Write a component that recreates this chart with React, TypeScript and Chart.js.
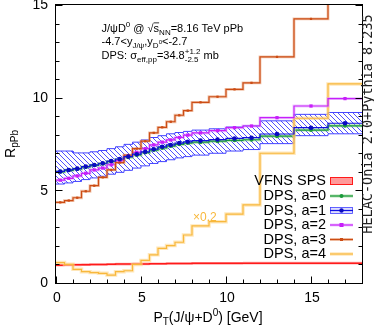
import React, { useEffect, useRef } from "react";
import { Chart, registerables } from "chart.js";

Chart.register(...registerables);

// ---------- data ----------
const binEdges = [0, 0.5, 1, 1.5, 2, 2.5, 3, 3.5, 4, 4.5, 5, 5.5, 6, 6.5, 7, 7.5, 8, 9, 10, 11, 12, 14, 16, 18];

const vfnsSps = [0.96, 0.97, 0.98, 0.99, 1.0, 1.0, 1.01, 1.02, 1.02, 1.03, 1.03, 1.04, 1.04, 1.05, 1.05, 1.05, 1.06, 1.06, 1.06, 1.07, 1.07, 1.07, 1.07];
const vfnsSpsUp = [1.03, 1.04, 1.05, 1.06, 1.07, 1.07, 1.08, 1.09, 1.09, 1.1, 1.1, 1.11, 1.11, 1.12, 1.12, 1.12, 1.13, 1.13, 1.13, 1.14, 1.14, 1.14, 1.14];
const vfnsSpsLo = [0.89, 0.9, 0.91, 0.92, 0.93, 0.93, 0.94, 0.95, 0.95, 0.96, 0.96, 0.97, 0.97, 0.98, 0.98, 0.98, 0.99, 0.99, 0.99, 1.0, 1.0, 1.0, 1.0];

const dpsA0 = [6.0, 6.08, 6.15, 6.26, 6.35, 6.44, 6.55, 6.66, 6.79, 6.91, 7.04, 7.17, 7.29, 7.39, 7.48, 7.55, 7.6, 7.65, 7.7, 7.73, 7.92, 8.25, 8.48];
const dpsA1 = [6.02, 6.1, 6.17, 6.28, 6.37, 6.46, 6.58, 6.69, 6.82, 6.95, 7.08, 7.22, 7.35, 7.45, 7.55, 7.62, 7.68, 7.74, 7.8, 7.84, 8.04, 8.38, 8.62];
const dpsA1Up = [7.12, 7.12, 7.02, 7.02, 7.08, 7.15, 7.25, 7.35, 7.48, 7.6, 7.72, 7.85, 7.95, 8.05, 8.12, 8.18, 8.25, 8.32, 8.42, 8.48, 8.75, 9.1, 9.2];
const dpsA1Lo = [5.34, 5.4, 5.48, 5.58, 5.67, 5.76, 5.87, 5.97, 6.08, 6.2, 6.32, 6.45, 6.55, 6.65, 6.75, 6.82, 6.9, 7.0, 7.12, 7.2, 7.52, 7.95, 8.05];
const dpsA2 = [5.55, 5.65, 5.78, 5.92, 6.1, 6.2, 6.38, 6.6, 6.85, 7.05, 7.25, 7.45, 7.6, 7.72, 7.85, 7.98, 8.1, 8.22, 8.38, 8.47, 8.92, 9.55, 9.95];
const dpsA3 = [4.35, 4.45, 4.6, 4.95, 5.25, 5.7, 6.1, 6.5, 6.9, 7.25, 7.65, 8.1, 8.4, 8.7, 9.05, 9.3, 9.75, 10.05, 10.45, 10.8, 12.2, 14.25, 16.5];
const dpsA4x02 = [1.1, 1.01, 0.74, 0.61, 0.56, 0.52, 0.43, 0.61, 0.66, 1.0, 1.22, 1.52, 1.87, 2.02, 2.2, 2.59, 3.08, 3.31, 3.72, 4.21, 7.0, 8.89, 10.74];

const xMajorTicks = [0, 5, 10, 15];
const xMinorTicks = [0, 1, 2, 3, 4, 5, 6, 7, 8, 9, 10, 11, 12, 13, 14, 15, 16, 17, 18];
const yMajorTicks = [0, 5, 10, 15];
const yMinorTicks = [0, 1, 2, 3, 4, 5, 6, 7, 8, 9, 10, 11, 12, 13, 14, 15];
const xTickLabels = ["0", "5", "10", "15"];
const yTickLabels = ["0", "5", "10", "15"];
const legendLabels = ["VFNS SPS", "DPS, a=0", "DPS, a=1", "DPS, a=2", "DPS, a=3", "DPS, a=4"];

// ---------- helpers ----------
const steps = (vals: number[]) =>
  vals.flatMap((v, i) => [
    { x: binEdges[i], y: v },
    { x: binEdges[i + 1], y: v },
  ]);
const centers = (vals: number[]) =>
  vals.map((v, i) => ({ x: (binEdges[i] + binEdges[i + 1]) / 2, y: v }));

const FF = '"Liberation Sans", Arial, Helvetica, sans-serif';

type Seg = { t?: string; s: number; dy?: number; sup?: string; sub?: string; over?: boolean };

function segWidth(ctx: CanvasRenderingContext2D, g: Seg) {
  ctx.font = `${g.s}px ${FF}`;
  if (g.sup !== undefined) return Math.max(ctx.measureText(g.sup).width, ctx.measureText(g.sub || "").width);
  return ctx.measureText(g.t || "").width;
}
function richWidth(ctx: CanvasRenderingContext2D, segs: Seg[]) {
  return segs.reduce((w, g) => w + segWidth(ctx, g), 0);
}
function drawRich(ctx: CanvasRenderingContext2D, segs: Seg[], x: number, y: number) {
  let cx = x;
  for (const g of segs) {
    const w = segWidth(ctx, g);
    ctx.font = `${g.s}px ${FF}`;
    if (g.sup !== undefined) {
      ctx.fillText(g.sup, cx, y - 5);
      ctx.fillText(g.sub || "", cx, y + 3);
    } else {
      ctx.fillText(g.t || "", cx, y + (g.dy || 0));
      if (g.over) ctx.fillRect(cx, y - g.s * 0.82, w, 0.8);
    }
    cx += w;
  }
  return cx;
}

const COL = {
  red: "#ff1a1a",
  redBand: "rgba(255,110,110,0.55)",
  green: "#1a9a3a",
  greenHalo: "rgba(120,200,120,0.55)",
  blue: "#1010e0",
  blueEdge: "#4444ff",
  blueDot: "#0a0ac0",
  magenta: "#c81efa",
  magentaHalo: "rgba(220,150,255,0.5)",
  orange: "#cc4c14",
  orangeHalo: "rgba(230,140,90,0.5)",
  yellow: "#f8b83c",
  yellowHalo: "rgba(255,215,140,0.6)",
};

const overlay = {
  id: "overlay",
  afterDraw(chart: any) {
    const ctx: CanvasRenderingContext2D = chart.ctx;
    const a = chart.chartArea;
    const xs = chart.scales.x;
    const ys = chart.scales.y;
    ctx.save();
    ctx.fillStyle = "#000";
    ctx.strokeStyle = "#000";
    ctx.lineWidth = 1;
    const L = Math.round(a.left) - 0.5;
    const R = Math.round(a.right) + 0.5;
    const T = Math.round(a.top) - 0.5;
    const B = Math.round(a.bottom) + 0.5;
    ctx.strokeRect(L, T, R - L, B - T);

    ctx.beginPath();
    xMinorTicks.forEach((v) => {
      const px = Math.round(xs.getPixelForValue(v)) + 0.5;
      const len = xMajorTicks.includes(v) ? 7 : 4;
      ctx.moveTo(px, B);
      ctx.lineTo(px, B - len);
    });
    yMinorTicks.forEach((v) => {
      const py = Math.round(ys.getPixelForValue(v)) + 0.5;
      const len = yMajorTicks.includes(v) ? 7 : 4;
      ctx.moveTo(L, py);
      ctx.lineTo(L + len, py);
      ctx.moveTo(R, py);
      ctx.lineTo(R - len, py);
    });
    ctx.stroke();

    // tick labels
    ctx.font = `14px ${FF}`;
    ctx.textAlign = "right";
    ctx.textBaseline = "middle";
    yMajorTicks.forEach((v, i) => ctx.fillText(yTickLabels[i], 48, ys.getPixelForValue(v) + 0.5));
    ctx.textAlign = "center";
    ctx.textBaseline = "alphabetic";
    xMajorTicks.forEach((v, i) => ctx.fillText(xTickLabels[i], xs.getPixelForValue(v) + 1, 302));

    // axis titles
    ctx.textAlign = "left";
    const xt: Seg[] = [
      { t: "P", s: 14 },
      { t: "T", s: 10, dy: 3 },
      { t: "(J/ψ+D", s: 14 },
      { t: "0", s: 10, dy: -6 },
      { t: ") [GeV]", s: 14 },
    ];
    const xw = richWidth(ctx, xt);
    drawRich(ctx, xt, 208 - xw / 2, 322);

    const yt: Seg[] = [
      { t: "R", s: 14 },
      { t: "pPb", s: 10, dy: 3 },
    ];
    ctx.save();
    ctx.translate(15, 144);
    ctx.rotate(-Math.PI / 2);
    const yw = richWidth(ctx, yt);
    drawRich(ctx, yt, -yw / 2, 0);
    ctx.restore();

    // annotations
    drawRich(
      ctx,
      [
        { t: "J/ψD", s: 11 },
        { t: "0", s: 8, dy: -5 },
        { t: " @ ", s: 11 },
        { t: "√", s: 11 },
        { t: "s", s: 11, over: true },
        { t: "NN", s: 8, dy: 3 },
        { t: "=8.16 TeV pPb", s: 11 },
      ],
      101.5,
      31.5
    );
    drawRich(
      ctx,
      [
        { t: "-4.7<y", s: 11 },
        { t: "J/ψ", s: 8, dy: 3 },
        { t: ",y", s: 11 },
        { t: "D", s: 8, dy: 3 },
        { t: "0", s: 6, dy: -1 },
        { t: "<-2.7", s: 11 },
      ],
      101.5,
      44.5
    );
    drawRich(
      ctx,
      [
        { t: "DPS: σ", s: 11 },
        { t: "eff,pp", s: 8, dy: 3 },
        { t: "=34.8", s: 11 },
        { s: 8, sup: "+1.2", sub: "-2.5" },
        { t: " mb", s: 11 },
      ],
      101.5,
      59
    );

    // x0.2 label
    ctx.fillStyle = COL.yellow;
    ctx.font = `12px ${FF}`;
    ctx.fillText("×0.2", 193, 221);

    // right-side program label
    ctx.fillStyle = "#222";
    ctx.save();
    ctx.translate(368, 124);
    ctx.rotate(-Math.PI / 2);
    ctx.font = `13.5px "DejaVu Sans Mono", "Liberation Mono", monospace`;
    ctx.textAlign = "center";
    ctx.textBaseline = "middle";
    ctx.fillText("HELAC-Onia 2.0+Pythia 8.235", 0, 0);
    ctx.restore();

    // legend
    const rows = [181, 196, 210.5, 225, 239.5, 254];
    ctx.font = `14.5px ${FF}`;
    ctx.textAlign = "right";
    ctx.textBaseline = "middle";
    ctx.fillStyle = "#000";
    rows.forEach((ry, i) => ctx.fillText(legendLabels[i], 326, ry));
    const sx0 = 330;
    const sx1 = 353;
    const sxc = (sx0 + sx1) / 2;
    const hline = (y: number, color: string, w: number) => {
      ctx.strokeStyle = color;
      ctx.lineWidth = w;
      ctx.beginPath();
      ctx.moveTo(sx0, y);
      ctx.lineTo(sx1, y);
      ctx.stroke();
    };
    // VFNS box
    ctx.fillStyle = "rgba(255,120,120,0.75)";
    ctx.fillRect(sx0, rows[0] - 4, sx1 - sx0, 8);
    ctx.strokeStyle = COL.red;
    ctx.lineWidth = 1;
    ctx.strokeRect(sx0 + 0.5, rows[0] - 3.5, sx1 - sx0 - 1, 7);
    // a=0
    hline(rows[1], COL.greenHalo, 3);
    hline(rows[1], COL.green, 1.2);
    ctx.fillStyle = COL.green;
    ctx.beginPath();
    ctx.arc(sxc, rows[1], 2, 0, Math.PI * 2);
    ctx.fill();
    // a=1
    ctx.fillStyle = "rgba(160,160,255,0.35)";
    ctx.fillRect(sx0, rows[2] - 3.5, sx1 - sx0, 7);
    ctx.strokeStyle = COL.blueEdge;
    ctx.lineWidth = 0.8;
    ctx.strokeRect(sx0 + 0.5, rows[2] - 3, sx1 - sx0 - 1, 6);
    hline(rows[2], COL.blue, 1.2);
    ctx.fillStyle = COL.blueDot;
    ctx.beginPath();
    ctx.arc(sxc, rows[2], 2.2, 0, Math.PI * 2);
    ctx.fill();
    // a=2
    hline(rows[3], COL.magentaHalo, 3);
    hline(rows[3], COL.magenta, 1.2);
    ctx.fillStyle = COL.magenta;
    ctx.fillRect(sxc - 2, rows[3] - 2, 4, 4);
    // a=3
    hline(rows[4], COL.orangeHalo, 3);
    hline(rows[4], COL.orange, 1.2);
    ctx.fillStyle = COL.orange;
    ctx.fillRect(sxc - 1.5, rows[4] - 1.5, 3, 3);
    // a=4
    hline(rows[5], COL.yellowHalo, 3.5);
    hline(rows[5], COL.yellow, 1.2);

    ctx.restore();
  },
};

function makeHatch(): CanvasPattern | string {
  const c = document.createElement("canvas");
  const s = 5;
  c.width = s;
  c.height = s;
  const g = c.getContext("2d");
  if (!g) return "rgba(80,80,255,0.4)";
  g.strokeStyle = "#5050ff";
  g.lineWidth = 1;
  g.beginPath();
  g.moveTo(0, 0);
  g.lineTo(s, s);
  g.moveTo(-1, s - 1);
  g.lineTo(1, s + 1);
  g.moveTo(s - 1, -1);
  g.lineTo(s + 1, 1);
  g.stroke();
  return g.createPattern(c, "repeat") || "rgba(80,80,255,0.4)";
}

export default function App() {
  const ref = useRef<HTMLCanvasElement>(null);
  useEffect(() => {
    document.body.style.margin = "0";
    if (!ref.current) return;
    const hatch = makeHatch();
    const line = (data: any[], color: string, width: number, order: number, extra: any = {}) => ({
      data,
      borderColor: color,
      borderWidth: width,
      pointRadius: 0,
      fill: false,
      tension: 0,
      order,
      ...extra,
    });
    const pts = (data: any[], color: string, style: string, r: number, order: number) => ({
      data,
      showLine: false,
      pointStyle: style,
      pointRadius: r,
      pointBackgroundColor: color,
      pointBorderColor: color,
      pointBorderWidth: 0,
      order,
    });
    const chart = new Chart(ref.current, {
      type: "line",
      data: {
        datasets: [
          line(steps(dpsA1Up), COL.blueEdge, 1, 90),
          line(steps(dpsA1Lo), COL.blueEdge, 1, 91, { fill: "-1", backgroundColor: hatch }),
          line(steps(vfnsSpsUp), "rgba(0,0,0,0)", 0, 80),
          line(steps(vfnsSpsLo), "rgba(0,0,0,0)", 0, 81, { fill: "-1", backgroundColor: COL.redBand }),
          line(steps(vfnsSps), COL.red, 1.5, 70),
          line(steps(dpsA0), COL.greenHalo, 3, 60),
          line(steps(dpsA0), COL.green, 1.2, 59),
          line(steps(dpsA4x02), COL.yellowHalo, 3.5, 50),
          line(steps(dpsA4x02), COL.yellow, 1.2, 49),
          line(steps(dpsA2), COL.magentaHalo, 3, 40),
          line(steps(dpsA2), COL.magenta, 1.2, 39),
          line(steps(dpsA3), COL.orangeHalo, 2.8, 30),
          line(steps(dpsA3), COL.orange, 1.2, 29),
          line(steps(dpsA1), COL.blue, 1.2, 20),
          pts(centers(dpsA0), COL.green, "circle", 2, 19),
          pts(centers(dpsA2), COL.magenta, "rect", 2.3, 14),
          pts(centers(dpsA3), COL.orange, "rect", 1.6, 13),
          pts(centers(dpsA1), COL.blueDot, "circle", 2.3, 12),
        ] as any,
      },
      options: {
        animation: false,
        responsive: false,
        maintainAspectRatio: false,
        events: [],
        layout: { padding: { left: 56, top: 5, right: 12, bottom: 45 } },
        plugins: { legend: { display: false }, tooltip: { enabled: false } },
        scales: {
          x: { type: "linear", min: 0, max: 18, display: false },
          y: { type: "linear", min: 0, max: 15, display: false },
        },
      } as any,
      plugins: [overlay],
    });
    return () => chart.destroy();
  }, []);
  return (
    <div style={{ width: 374, height: 328, background: "#fff" }}>
      <canvas ref={ref} width={374} height={328} style={{ display: "block" }} />
    </div>
  );
}
